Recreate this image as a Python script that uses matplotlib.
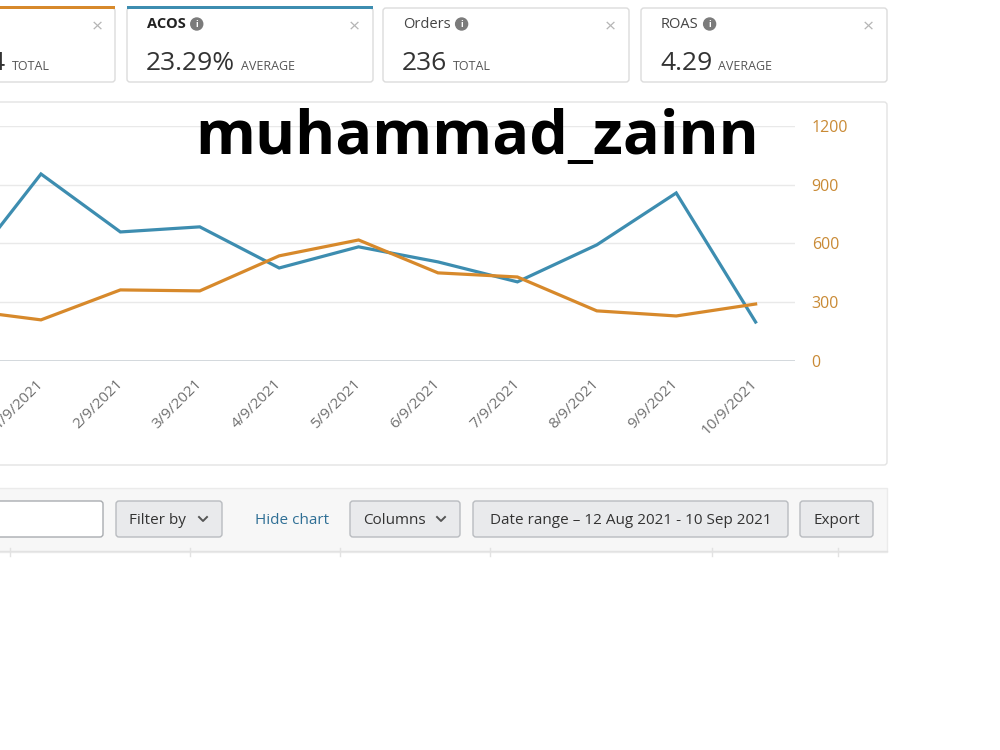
import numpy as np
import matplotlib
matplotlib.use("Agg")
import matplotlib.pyplot as plt
from matplotlib.patches import FancyBboxPatch, Rectangle, Circle

plt.rcParams['font.family'] = ['Open Sans', 'DejaVu Sans']

# data (index 0 = 31/8, partly cut off on the left)
dates = ["31/8/2021", "1/9/2021", "2/9/2021", "3/9/2021", "4/9/2021", "5/9/2021",
         "6/9/2021", "7/9/2021", "8/9/2021", "9/9/2021", "10/9/2021"]
acos_line = [435, 955, 659, 685, 475, 583, 506, 404, 593, 858, 199]
spend_line = [262, 210, 363, 358, 537, 618, 450, 429, 256, 230, 291]
yticks = [0, 300, 600, 900, 1200]

cards = [("ACOS", "23.29%", "AVERAGE"), ("Orders", "236", "TOTAL"), ("ROAS", "4.29", "AVERAGE")]
buttons = ["Filter by", "Columns", "Date range \u2013 12 Aug 2021 - 10 Sep 2021", "Export"]

BLUE = "#3d8db0"
ORANGE = "#d7892b"
TXT = "#333333"

fig = plt.figure(figsize=(10, 7.5), dpi=100)

# background layer in pixel coords
bg = fig.add_axes([0, 0, 1, 1], zorder=0)
bg.set_xlim(0, 1000)
bg.set_ylim(750, 0)
bg.axis("off")


def box(x0, y0, x1, y1, fc="white", ec="#dcdcdc", r=3, lw=1):
    p = FancyBboxPatch((x0, y0), x1 - x0, y1 - y0,
                       boxstyle=f"round,pad=0,rounding_size={r}",
                       fc=fc, ec=ec, lw=lw)
    bg.add_patch(p)


def info_icon(x, y):
    bg.add_patch(Circle((x, y), 6, color="#7b7b7b"))
    bg.text(x, y + 0.5, "i", color="white", fontsize=6.5, weight="bold",
            ha="center", va="center")


def chevron(x, y):
    bg.plot([x - 4, x, x + 4], [y - 2, y + 2, y - 2], color="#555555", lw=1.4)


# metric cards
box(-10, 8, 115, 82)
bg.add_patch(Rectangle((-10, 6), 125, 3, color=ORANGE, lw=0))
bg.text(4, 63, "4", fontsize=19, color=TXT, ha="right", va="center")
bg.text(12, 67, "TOTAL", fontsize=9, color="#555555", va="center")
bg.text(97, 27, "\u00d7", fontsize=14, color="#b5b5b5", ha="center", va="center")

card_x = [127, 383, 641]
for i, (name, val, kind) in enumerate(cards):
    x0 = card_x[i]
    box(x0, 8, x0 + 246, 82)
    if i == 0:
        bg.add_patch(Rectangle((x0, 6), 246, 3, color=BLUE, lw=0))
    t = bg.text(x0 + 20, 24, name, fontsize=10.5, color="#222222" if i == 0 else "#444444",
                weight="bold" if i == 0 else "normal", va="center")
    fig.canvas.draw()
    bb = t.get_window_extent()
    info_icon(bb.x1 + 11, 24)
    v = bg.text(x0 + 19, 63, val, fontsize=19, color=TXT, va="center")
    bb = v.get_window_extent()
    bg.text(bb.x1 + 6, 67, kind, fontsize=9, color="#555555", va="center")
    bg.text(x0 + 227, 27, "\u00d7", fontsize=14, color="#b5b5b5", ha="center", va="center")

# chart panel
box(-10, 102, 887, 465, ec="#e3e3e3")

ax = fig.add_axes([0, (750 - 361) / 750, 0.795, (361 - 126) / 750], zorder=2)
ax.set_facecolor("none")
x = np.arange(len(dates))
ax.plot(x, acos_line, color=BLUE, lw=2.3, solid_joinstyle="miter")
ax.plot(x, spend_line, color=ORANGE, lw=2.3, solid_joinstyle="miter")
ax.set_xticks(x)
ax.set_xticklabels(dates, rotation=45, ha="right", va="center",
                   rotation_mode="anchor", color="#707070", fontsize=11)
ax.tick_params(axis="x", length=0, pad=15)
ax.set_xlim(0.484, 10.496)
ax.set_ylim(0, 1200)
ax.set_yticks(yticks)
ax.yaxis.tick_right()
ax.tick_params(axis="y", length=0, pad=12, labelcolor="#c98a35", labelsize=11.5)
for s in ax.spines.values():
    s.set_visible(False)
ax.grid(axis="y", color="#e9e9e9", lw=1)
ax.axhline(0, color="#cdd3d8", lw=1.2)
ax.set_axisbelow(True)

# toolbar
bg.add_patch(Rectangle((-10, 488), 897, 64, fc="#f7f7f7", ec="#ebebeb", lw=1))
box(-10, 501, 103, 537, fc="white", ec="#a9acb0")
btn_pos = [(116, 222), (350, 460), (473, 788), (800, 873)]
for (x0, x1), label in zip(btn_pos, buttons):
    box(x0, 501, x1, 537, fc="#e9eaec", ec="#b9bcc0")
    if label in ("Filter by", "Columns"):
        bg.text(x0 + 13, 520, label, fontsize=11, color=TXT, va="center")
        chevron(x1 - 19, 519)
    else:
        bg.text((x0 + x1) / 2, 520, label, fontsize=11, color=TXT, ha="center", va="center")
bg.text(255, 521, "Hide chart", fontsize=11, color="#2f6f95", va="center")
bg.plot([0, 887], [551, 551], color="#e2e2e2", lw=1)
for cx in [10, 190, 340, 490, 712, 838]:
    bg.plot([cx, cx], [548, 556], color="#e2e2e2", lw=1)

# watermark
fig.text(0.4775, 1 - 139 / 750, "muhammad_zainn", fontsize=44, weight="bold",
         color="black", ha="center", va="center", zorder=5)

fig.savefig("out.png", dpi=100, facecolor="white")
